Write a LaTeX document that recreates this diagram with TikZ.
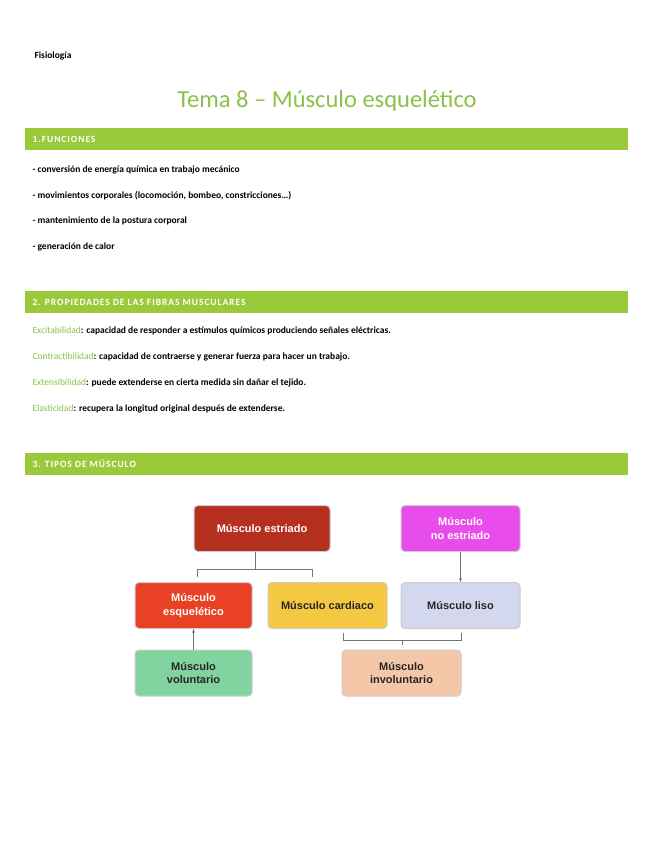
\documentclass[tikz,border=0pt]{standalone}
\usepackage{fontspec}
\setmainfont{Carlito}
\newfontfamily\boxfont{Liberation Sans}
\usetikzlibrary{arrows.meta}
\definecolor{lgreen}{HTML}{9ACA3C}
\definecolor{tgreen}{HTML}{8CC04A}
\begin{document}
\begin{tikzpicture}[x=1pt,y=-1pt,
 bar/.style={fill=lgreen,draw=none},
 bartext/.style={anchor=west,text=white,font=\fontsize{9.5}{10}\selectfont\bfseries\addfontfeatures{LetterSpace=10}},
 line/.style={anchor=west,font=\fontsize{9.5}{10}\selectfont\bfseries},
 mbox/.style={draw=black!20,line width=1pt,rounded corners=4pt,minimum width=117pt,minimum height=46pt,align=center,font=\boxfont\bfseries\fontsize{11}{13.5}\selectfont},
 conn/.style={draw=black!55,line width=0.6pt}]
\useasboundingbox (0,0) rectangle (655,848);
\node[anchor=west,font=\fontsize{9.5}{10}\selectfont\bfseries] (fis) at (31,56) {Fisiología};
\node[font=\fontsize{24.5}{28}\selectfont,text=tgreen] (title) at (327,101) {Tema 8 – Músculo esquelético};
\fill[bar] (25,128) rectangle (628,150);
\node[bartext] (h1) at (29,139) {1.FUNCIONES};
\node[line] (f1) at (29,170) {- conversión de energía química en trabajo mecánico};
\node[line] (f2) at (29,196) {- movimientos corporales (locomoción, bombeo, constricciones…)};
\node[line] (f3) at (29,221) {- mantenimiento de la postura corporal};
\node[line] (f4) at (29,247) {- generación de calor};
\fill[bar] (25,291) rectangle (628,313);
\node[bartext] (h2) at (29,302) {2. PROPIEDADES DE LAS FIBRAS MUSCULARES};
\node[line] (p1) at (29,331) {\textcolor{tgreen}{\mdseries Excitabilidad}: capacidad de responder a estímulos químicos produciendo señales eléctricas.};
\node[line] (p2) at (29,357) {\textcolor{tgreen}{\mdseries Contractibilidad}: capacidad de contraerse y generar fuerza para hacer un trabajo.};
\node[line] (p3) at (29,383) {\textcolor{tgreen}{\mdseries Extensibilidad}: puede extenderse en cierta medida sin dañar el tejido.};
\node[line] (p4) at (29,409) {\textcolor{tgreen}{\mdseries Elasticidad}: recupera la longitud original después de extenderse.};
\fill[bar] (25,453) rectangle (628,475);
\node[bartext] (h3) at (29,464) {3. TIPOS DE MÚSCULO};
% diagram
\node[mbox,fill={rgb,255:red,181;green,48;blue,31},text=white,minimum width=136pt] (estr) at (262,528.5) {Músculo estriado};
\node[mbox,fill={rgb,255:red,232;green,77;blue,235},text=white,minimum width=119pt] (noes) at (460.5,528.5) {Músculo\\no estriado};
\node[mbox,fill={rgb,255:red,232;green,65;blue,37},text=white] (esq) at (193.5,605.5) {Músculo\\esquelético};
\node[mbox,fill={rgb,255:red,245;green,200;blue,66},text=black!85,minimum width=119pt] (card) at (327.5,605.5) {Músculo cardiaco};
\node[mbox,fill={rgb,255:red,212;green,216;blue,238},text=black!85,minimum width=119pt] (liso) at (460.5,605.5) {Músculo liso};
\node[mbox,fill={rgb,255:red,130;green,211;blue,160},text=black!85] (vol) at (193.5,673) {Músculo\\voluntario};
\node[mbox,fill={rgb,255:red,244;green,199;blue,168},text=black!85,minimum width=119pt] (inv) at (401.5,673) {Músculo\\involuntario};
% bracket from estriado
\coordinate (b1) at (255,566);
\draw[conn] (estr.south -| b1) -- (b1);
\draw[conn] (197,577) -- (197,569) -- (312,569) -- (312,577);
\draw[conn] (b1) -- (255,569);
% bracket to involuntario
\draw[conn] (343,633) -- (343,640) -- (461,640) -- (461,633);
\draw[conn] (402,640) -- (402,645);
% arrows
\draw[conn,-{Stealth[length=4pt]}] (noes.south) -- (liso.north);
\draw[conn,-{Stealth[length=4pt]}] (vol.north) -- (esq.south);
\end{tikzpicture}
\end{document}
